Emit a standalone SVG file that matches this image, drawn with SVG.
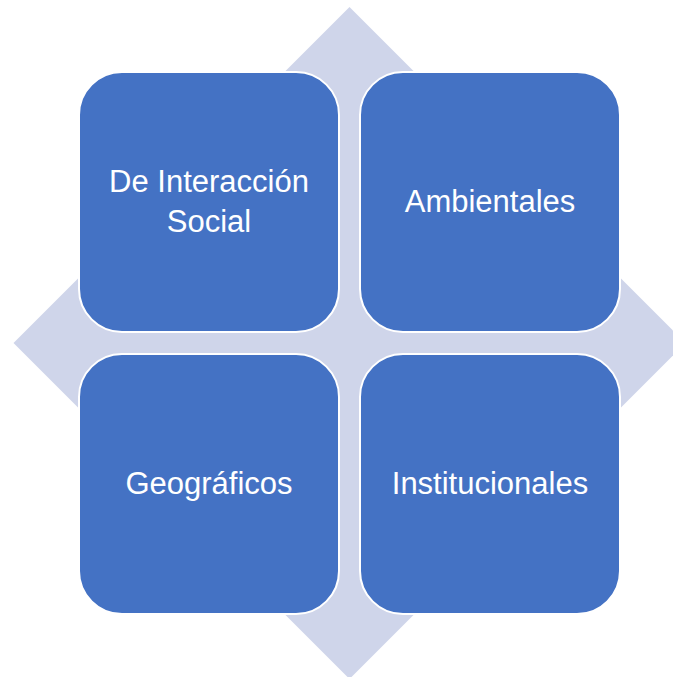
<svg xmlns="http://www.w3.org/2000/svg" width="673" height="677" viewBox="0 0 673 677">
<style>
.box{fill:#4472C4;stroke:#FFFFFF;stroke-width:2}
.lbl{fill:#FFFFFF;font-family:"Liberation Sans",Arial,sans-serif;font-size:31px;text-anchor:middle}
</style>
<rect width="673" height="677" fill="#FFFFFF"/>
<polygon id="background" points="349.5,7 685.5,343 349.5,679 13.5,343" fill="#CFD5EA"/>
<g id="node-interaccion">
<rect class="box" x="79" y="72" width="260" height="260" rx="43" ry="43"/>
<text class="lbl" x="209" y="192">De Interacción</text>
<text class="lbl" x="209" y="232">Social</text>
</g>
<g id="node-ambientales">
<rect class="box" x="360" y="72" width="260" height="260" rx="43" ry="43"/>
<text class="lbl" x="490" y="212">Ambientales</text>
</g>
<g id="node-geograficos">
<rect class="box" x="79" y="354" width="260" height="260" rx="43" ry="43"/>
<text class="lbl" x="209" y="494">Geográficos</text>
</g>
<g id="node-institucionales">
<rect class="box" x="360" y="354" width="260" height="260" rx="43" ry="43"/>
<text class="lbl" x="490" y="494">Institucionales</text>
</g>
</svg>
